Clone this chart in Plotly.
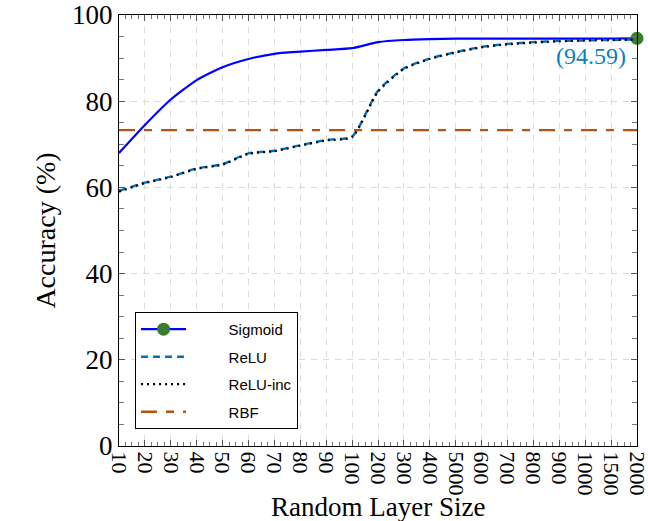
import plotly.graph_objects as go

# Hidden (random) layer sizes used in the sweep
layer_sizes = ["10", "20", "30", "40", "50", "60", "70", "80", "90", "100",
               "200", "300", "400", "5000", "600", "700", "800", "900",
               "1000", "1500", "2000"]

sigmoid_acc = [68.0, 74.5, 80.4, 84.9, 87.9, 89.8, 91.0, 91.5, 91.9, 92.3,
               93.7, 94.2, 94.4, 94.5, 94.5, 94.5, 94.5, 94.5, 94.5, 94.55, 94.59]
relu_acc = [59.2, 61.1, 62.5, 64.4, 65.4, 67.9, 68.5, 69.8, 71.0, 71.8,
            82.4, 87.6, 89.9, 91.4, 92.6, 93.3, 93.7, 94.0, 94.1, 94.2, 94.3]
relu_inc_acc = [59.0, 61.0, 62.4, 64.3, 65.3, 67.8, 68.4, 69.7, 70.9, 71.7,
                82.2, 87.5, 89.8, 91.3, 92.5, 93.2, 93.6, 93.9, 94.1, 94.2, 94.3]
rbf_acc = [73.3] * len(layer_sizes)

final_label = "(94.59)"

x_idx = list(range(len(layer_sizes)))

SERIF = "Liberation Serif"
SANS = "Liberation Sans"

SIG_BLUE = "#0000ff"
SIG_GREEN = "#3a7d2c"

# non-breaking spaces to widen the gap between legend symbol and label
PAD = "\u00a0" * 9

fig = go.Figure()

# Sigmoid curve
fig.add_trace(go.Scatter(
    x=x_idx, y=sigmoid_acc, name="Sigmoid", legendgroup="a", showlegend=False,
    mode="lines", line=dict(color=SIG_BLUE, width=2.2, shape="spline", smoothing=0.6),
))
# Highlighted final Sigmoid point (carries the legend entry)
fig.add_trace(go.Scatter(
    x=[x_idx[-1]], y=[sigmoid_acc[-1]], name=PAD + "Sigmoid", legendgroup="a",
    mode="lines+markers", line=dict(color=SIG_BLUE, width=2.2),
    marker=dict(color=SIG_GREEN, size=13, line=dict(width=0)),
    cliponaxis=False,
))
fig.add_trace(go.Scatter(
    x=x_idx, y=relu_acc, name=PAD + "ReLU", legendgroup="b",
    mode="lines", line=dict(color="#0072bd", width=2.4, dash="7px,5px", shape="spline", smoothing=0.6),
))
fig.add_trace(go.Scatter(
    x=x_idx, y=relu_inc_acc, name=PAD + "ReLU-inc", legendgroup="c",
    mode="lines", line=dict(color="black", width=2.2, dash="2px,4px", shape="spline", smoothing=0.6),
))
fig.add_trace(go.Scatter(
    x=x_idx, y=rbf_acc, name=PAD + "RBF", legendgroup="d",
    mode="lines", line=dict(color="#b5530f", width=2.4, dash="16px,9px,8px,9px"),
))

fig.add_annotation(
    x=x_idx[-1], y=sigmoid_acc[-1], text=final_label, showarrow=False,
    xanchor="right", yanchor="top", xshift=-9, yshift=-3,
    font=dict(family=SERIF, size=24, color="#0a7fc4"),
)

# x-axis title placed below the rotated tick labels
fig.add_annotation(
    x=0.5, y=-0.181, xref="paper", yref="paper", text="Random Layer Size",
    showarrow=False, xanchor="center", yanchor="bottom",
    font=dict(family=SERIF, size=27, color="black"),
)

fig.update_xaxes(
    range=[0, len(x_idx) - 1], tickmode="array", tickvals=x_idx, ticktext=layer_sizes,
    tickangle=90, tickfont=dict(family=SERIF, size=22, color="black"),
    ticklabeloverflow="allow", automargin=False,
    showline=True, linecolor="black", linewidth=1.2, mirror="allticks",
    ticks="inside", ticklen=6, tickcolor="#555",
    showgrid=True, gridcolor="#d9d9d9", gridwidth=1, griddash="6px,6px",
    minor=dict(dtick=0.25, tick0=0, ticks="inside", ticklen=4, tickcolor="#777", showgrid=False),
    zeroline=False,
)
fig.update_yaxes(
    range=[0, 100], tickmode="array", tickvals=[0, 20, 40, 60, 80, 100],
    tickfont=dict(family=SERIF, size=27, color="black"),
    automargin=False,
    showline=True, linecolor="black", linewidth=1.2, mirror="allticks",
    ticks="inside", ticklen=6, tickcolor="#555",
    showgrid=True, gridcolor="#d9d9d9", gridwidth=1, griddash="6px,6px",
    minor=dict(dtick=5, tick0=0, ticks="inside", ticklen=5, tickcolor="#777", showgrid=False),
    zeroline=False,
    title=dict(text="Accuracy (%)", font=dict(family=SERIF, size=28, color="black"), standoff=8),
)

fig.update_layout(
    width=648, height=521,
    margin=dict(l=119, r=11, t=15, b=75),
    paper_bgcolor="white", plot_bgcolor="white",
    legend=dict(
        x=0.031, y=0.311, xanchor="left", yanchor="top",
        bgcolor="white", bordercolor="black", borderwidth=1,
        font=dict(family=SANS, size=15, color="black"),
        itemwidth=45, tracegroupgap=5,
    ),
    showlegend=True,
)

fig.write_html("out.html")
